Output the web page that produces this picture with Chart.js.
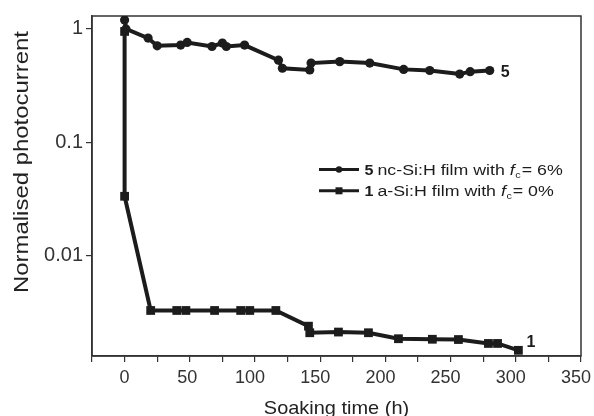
<!DOCTYPE html>
<html>
<head>
<meta charset="utf-8">
<script src="https://cdn.jsdelivr.net/npm/chart.js@4.4.1/dist/chart.umd.min.js"></script>
<style>
  html, body { margin: 0; padding: 0; background: #ffffff; }
  #wrap { width: 594px; height: 416px; }
</style>
</head>
<body>
<div id="wrap"><canvas id="c" width="594" height="416"></canvas></div>
<script>
// ---- Data ----
const timeS5 = [0, 1, 18, 25, 43, 48, 67, 75, 78, 92, 118, 121, 142, 143, 165, 188, 214, 234, 257, 265, 280];
const valS5  = [1.2, 1.0, 0.83, 0.71, 0.72, 0.76, 0.70, 0.75, 0.70, 0.72, 0.53, 0.45, 0.435, 0.50, 0.515, 0.50, 0.44, 0.43, 0.40, 0.42, 0.43];

const timeS1 = [0, 0, 20, 40, 47, 69, 89, 96, 116, 141, 142, 164, 187, 210, 236, 256, 279, 286, 302];
const valS1  = [0.95, 0.0335, 0.0033, 0.0033, 0.0033, 0.0033, 0.0033, 0.0033, 0.0033, 0.0024, 0.0021, 0.00213, 0.0021, 0.00186, 0.00184, 0.00183, 0.00169, 0.00169, 0.00147];

const xTickValues = [0, 50, 100, 150, 200, 250, 300, 350];
const xTickLabels = ['0', '50', '100', '150', '200', '250', '300', '350'];
const yTickValues = [0.01, 0.1, 1];
const yTickLabels = ['0.01', '0.1', '1'];
const xMin = -25, xMax = 350, xStep = 25;
const yMin = 0.00131, yMax = 1.30;

const seriesNames = ['5', '1'];
const legendText = [
  { num: '5', text: 'nc-Si:H film with ', sub: 'c', tail: '= 6%' },
  { num: '1', text: 'a-Si:H film with ', sub: 'c', tail: '= 0%' }
];
const xTitle = 'Soaking time (h)';
const yTitle = 'Normalised photocurrent';

const INK = '#1c1c1c';
const FONT = "'Liberation Sans', Arial, Helvetica, sans-serif";

function toXY(xs, ys) { return xs.map((x, i) => ({ x: x, y: ys[i] })); }

function drawScaled(ctx, text, x, y, font, sx, align) {
  ctx.save();
  ctx.font = font;
  ctx.textBaseline = 'alphabetic';
  ctx.textAlign = 'left';
  const w = ctx.measureText(text).width * sx;
  let x0 = x;
  if (align === 'center') x0 = x - w / 2;
  else if (align === 'right') x0 = x - w;
  ctx.translate(x0, y);
  ctx.scale(sx, 1);
  ctx.fillText(text, 0, 0);
  ctx.restore();
  return w;
}

const decorPlugin = {
  id: 'decor',
  beforeDatasetsDraw(chart) {
    const ctx = chart.ctx, a = chart.chartArea;
    ctx.save();
    ctx.strokeStyle = '#333';
    ctx.lineWidth = 1.5;
    ctx.strokeRect(a.left, a.top, a.right - a.left, a.bottom - a.top);
    ctx.restore();
  },
  afterDraw(chart) {
    const ctx = chart.ctx, a = chart.chartArea;
    const xs = chart.scales.x, ys = chart.scales.y;
    ctx.save();
    // X tick labels
    ctx.fillStyle = '#333';
    xTickValues.forEach((v, i) => {
      const lab = xTickLabels[i];
      const px = xs.getPixelForValue(v) - (lab.length - 1) * 2.5;
      drawScaled(ctx, lab, px, 383, '18px ' + FONT, 1, 'center');
    });
    ctx.fillStyle = '#222';
    // X title
    drawScaled(ctx, xTitle, (a.left + a.right) / 2, 414, '19px ' + FONT, 1.05, 'center');
    // Y title (rotated)
    ctx.save();
    ctx.translate(28, 162);
    ctx.rotate(-Math.PI / 2);
    ctx.font = '21px ' + FONT;
    const tw = ctx.measureText(yTitle).width;
    const sy = 262 / tw;
    drawScaled(ctx, yTitle, 0, 0, '21px ' + FONT, sy, 'center');
    ctx.restore();

    // Series end labels
    ctx.fillStyle = INK;
    drawScaled(ctx, seriesNames[0], xs.getPixelForValue(timeS5[timeS5.length - 1]) + 11, ys.getPixelForValue(valS5[valS5.length - 1]) + 6, 'bold 16px ' + FONT, 1, 'left');
    drawScaled(ctx, seriesNames[1], xs.getPixelForValue(timeS1[timeS1.length - 1]) + 8, ys.getPixelForValue(valS1[valS1.length - 1]) - 3, 'bold 16px ' + FONT, 1, 'left');

    // Legend
    const rows = [169.5, 190.8];
    const sx = 1.27;
    rows.forEach((ry, i) => {
      ctx.save();
      ctx.strokeStyle = INK;
      ctx.lineWidth = 3;
      ctx.beginPath();
      ctx.moveTo(319, ry);
      ctx.lineTo(359, ry);
      ctx.stroke();
      ctx.fillStyle = INK;
      if (i === 0) {
        ctx.beginPath();
        ctx.arc(339, ry, 3.2, 0, Math.PI * 2);
        ctx.fill();
      } else {
        ctx.fillRect(335.5, ry - 3.5, 7, 7);
      }
      ctx.restore();
      const base = ry + 5.5;
      const L = legendText[i];
      let x = 364.5;
      x += drawScaled(ctx, L.num, x, base, 'bold 14px ' + FONT, 1.15, 'left');
      x += 4;
      x += drawScaled(ctx, L.text, x, base, '14px ' + FONT, sx, 'left');
      x += drawScaled(ctx, 'f', x, base, 'italic 14px ' + FONT, sx, 'left');
      x += 0.5;
      x += drawScaled(ctx, L.sub, x, base + 3, '9px ' + FONT, 1.2, 'left');
      x += 1;
      drawScaled(ctx, L.tail, x, base, '14px ' + FONT, sx, 'left');
    });
    ctx.restore();
  }
};

Chart.defaults.font.family = FONT;
Chart.defaults.color = '#333';

new Chart(document.getElementById('c'), {
  type: 'line',
  data: {
    datasets: [
      {
        label: seriesNames[0],
        data: toXY(timeS5, valS5),
        borderColor: INK,
        backgroundColor: INK,
        borderWidth: 4,
        pointStyle: 'circle',
        pointRadius: 4.6,
        pointBackgroundColor: INK,
        pointBorderWidth: 0,
        tension: 0
      },
      {
        label: seriesNames[1],
        data: toXY(timeS1, valS1),
        borderColor: INK,
        backgroundColor: INK,
        borderWidth: 4,
        pointStyle: 'rect',
        pointRadius: 6.2,
        pointBackgroundColor: INK,
        pointBorderWidth: 0,
        tension: 0
      }
    ]
  },
  options: {
    responsive: false,
    animation: false,
    devicePixelRatio: 1,
    layout: { padding: { left: 0, top: 16, right: 13, bottom: 0 } },
    plugins: { legend: { display: false }, tooltip: { enabled: false } },
    scales: {
      x: {
        type: 'linear',
        min: xMin, max: xMax,
        ticks: {
          stepSize: xStep,
          autoSkip: false,
          maxRotation: 0,
          padding: 4,
          color: 'rgba(0,0,0,0)',
          font: { size: 18 },
          callback: () => ''
        },
        grid: { drawOnChartArea: false, tickLength: 6, color: '#333', lineWidth: 1.2 },
        border: { display: true, color: '#333', width: 1.5 },
        afterFit(scale) { scale.height = 60; scale.paddingRight = 0; scale.paddingLeft = 0; }
      },
      y: {
        type: 'logarithmic',
        min: yMin, max: yMax,
        afterBuildTicks(scale) { scale.ticks = yTickValues.map(v => ({ value: v })); },
        ticks: {
          padding: 3,
          color: '#333',
          font: { size: 20 },
          callback: (v) => { const i = yTickValues.indexOf(v); return i >= 0 ? yTickLabels[i] : ''; }
        },
        grid: { drawOnChartArea: false, tickLength: 6, color: '#333', lineWidth: 1.2 },
        border: { display: true, color: '#333', width: 1.5 },
        afterFit(scale) { scale.width = 92; scale.paddingTop = 0; scale.paddingBottom = 0; }
      }
    }
  },
  plugins: [decorPlugin]
});
</script>
</body>
</html>
